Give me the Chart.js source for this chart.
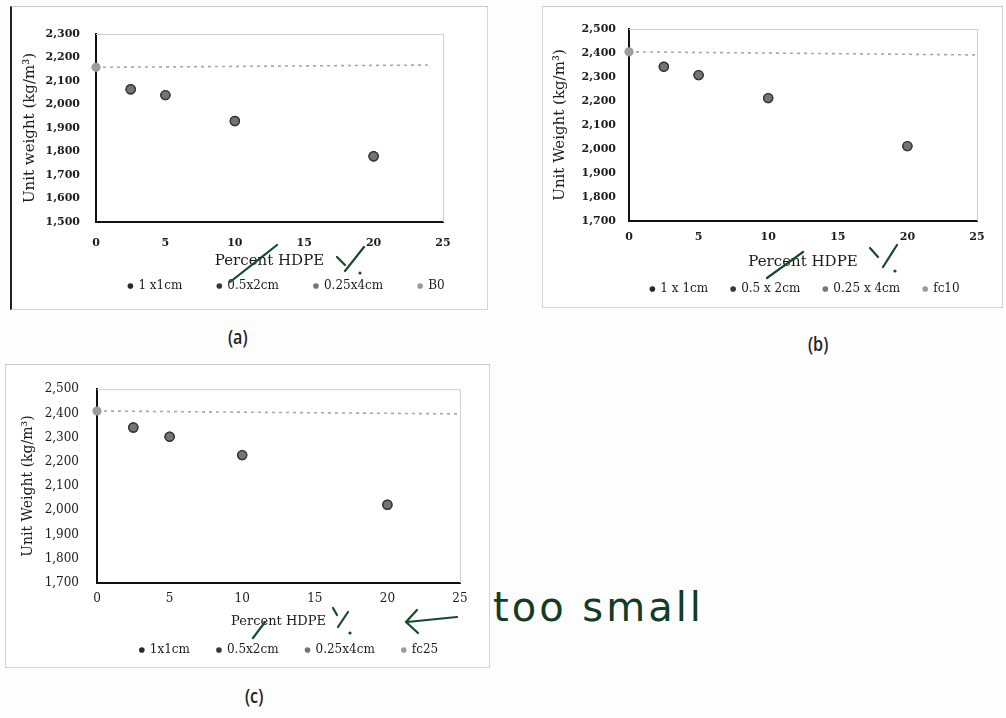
<!DOCTYPE html>
<html><head><meta charset="utf-8">
<script src="https://cdn.jsdelivr.net/npm/chart.js@4.4.0/dist/chart.umd.min.js"></script>
<style>
html,body{margin:0;padding:0;background:#fdfdfd;}
body{width:1006px;height:718px;position:relative;overflow:hidden;}
.frame{position:absolute;border:1px solid #d4d4d4;box-sizing:border-box;background:#fff;}
canvas{position:absolute;}
.cap{position:absolute;font-family:"Open Sans",sans-serif;font-weight:600;font-size:19px;color:#222;transform:scaleX(0.85);transform-origin:left top;}
.note{position:absolute;font-family:"DejaVu Sans",sans-serif;font-size:40px;color:#123d22;letter-spacing:3px;}
svg{position:absolute;left:0;top:0;pointer-events:none;}
</style></head><body>
<div class="frame" style="left:10px;top:6px;width:478px;height:304px;border-left:2px solid #222;border-top-color:#c8c8c8;"></div>
<div class="frame" style="left:542px;top:6px;width:461px;height:302px;border-top-color:#c8c8c8;"></div>
<div class="frame" style="left:5px;top:364px;width:485px;height:304px;border-top-color:#c8c8c8;"></div>
<canvas id="ca" width="478" height="304" style="left:10px;top:6px;"></canvas>
<canvas id="cb" width="461" height="302" style="left:542px;top:6px;"></canvas>
<canvas id="cc" width="485" height="304" style="left:5px;top:364px;"></canvas>
<div class="cap" style="left:228px;top:324px;">(a)</div>
<div class="cap" style="left:808px;top:331px;">(b)</div>
<div class="cap" style="left:245px;top:683px;">(c)</div>
<div class="note" style="left:493px;top:584px;">too small</div>
<svg width="1006" height="718" viewBox="0 0 1006 718">
 <g stroke="#174a2a" stroke-width="2.2" fill="none" stroke-linecap="round">
  <path d="M230 282 L277 245"/>
  <path d="M337 257 L345 265 M345 271 L364 247"/>
  <path d="M767 278 L803 252"/>
  <path d="M870 248 L878 257 M883 267 L897 245"/>
  <path d="M253 638 L265 622"/>
  <path d="M333 608 L337 615 M338 627 L348 612"/>
  <path d="M457 617 L407 622 M417 610 L406 622 L418 633"/>
 </g>
 <g fill="#174a2a"><circle cx="360" cy="273" r="1.6"/><circle cx="895" cy="271" r="1.6"/><circle cx="350" cy="633" r="1.6"/></g>
</svg>
<script>
// ---- data ----
const percentHDPE = [2.5, 5, 10, 20];
const weightA = [2065, 2040, 1930, 1780];
const weightB = [2343, 2308, 2212, 2012];
const weightC = [2342, 2304, 2228, 2023];
const refPercentA = [0, 24];
const refWeightA = [2158, 2168];
const refPercentB = [0, 25];
const refWeightB = [2405, 2392];
const refPercentC = [0, 25];
const refWeightC = [2410, 2398];
const seriesNamesA = ['1 x1cm', '0.5x2cm', '0.25x4cm', 'B0'];
const seriesNamesB = ['1 x 1cm', '0.5 x 2cm', '0.25 x 4cm', 'fc10'];
const seriesNamesC = ['1x1cm', '0.5x2cm', '0.25x4cm', 'fc25'];
const yRangeA = [1500, 2300];
const yRangeB = [1700, 2500];
const yRangeC = [1700, 2500];
const xRange = [0, 25];
const xTitle = 'Percent HDPE';
const yTitleA = 'Unit weight (kg/m³)';
const yTitleB = 'Unit Weight (kg/m³)';
const yTitleC = 'Unit Weight (kg/m³)';

Chart.defaults.font.family = '"DejaVu Serif", serif';
Chart.defaults.color = '#1c1c1c';

const placeLegend = {
  id: 'placeLegend',
  afterLayout(chart, args, opts) {
    const lg = chart.legend;
    if (!lg || !opts || opts.cx == null) return;
    const p = lg.options.labels.padding;
    const fs = opts.fs;
    const dx = opts.cx - (lg.left + lg.right) / 2;
    lg.left += dx; lg.right += dx;
    lg.top = opts.cy - p - fs / 2;
    lg.height = p + fs + 12;
    lg.bottom = lg.top + lg.height;
  }
};
const plotFrame = {
  id: 'plotFrame',
  beforeDatasetsDraw(chart) {
    const a = chart.chartArea, ctx = chart.ctx;
    ctx.save();
    ctx.strokeStyle = '#d0d0d0';
    ctx.lineWidth = 1;
    ctx.beginPath();
    ctx.moveTo(a.left, a.top + 0.5); ctx.lineTo(a.right + 0.5, a.top + 0.5); ctx.lineTo(a.right + 0.5, a.bottom);
    ctx.stroke();
    ctx.restore();
  }
};

function build(id, c) {
  const sizeStyles = [
    {bg: '#2a2a2a', r: 5.2},
    {bg: '#383838', r: 5.2},
    {bg: '#747474', r: 3.8}
  ];
  const datasets = c.names.slice(0, 3).map((n, i) => ({
    label: n,
    data: percentHDPE.map((x, j) => ({x: x, y: c.weights[j]})),
    showLine: false,
    pointRadius: sizeStyles[i].r,
    pointBackgroundColor: sizeStyles[i].bg,
    backgroundColor: sizeStyles[i].bg,
    borderColor: sizeStyles[i].bg,
    pointBorderWidth: 0,
    order: 2 - i
  }));
  datasets.push({
    label: c.names[3],
    data: c.refX.map((x, j) => ({x: x, y: c.refY[j]})),
    showLine: true,
    borderColor: '#a8a8a8',
    borderDash: [3, 4],
    borderWidth: 1.6,
    pointRadius: [4.6, 0],
    pointBackgroundColor: '#9c9c9c',
    backgroundColor: '#a4a4a4',
    pointBorderWidth: 0,
    clip: false,
    order: 5
  });
  new Chart(document.getElementById(id), {
    type: 'scatter',
    data: {datasets},
    plugins: [placeLegend, plotFrame],
    options: {
      responsive: false,
      animation: false,
      layout: {padding: {top: c.padTop, right: c.padRight, left: 0, bottom: 0}},
      plugins: {
        tooltip: {enabled: false},
        placeLegend: {cx: c.lcx, cy: c.lcy, fs: 12},
        legend: {
          position: 'bottom',
          maxHeight: 20,
          labels: {
            usePointStyle: true, pointStyle: 'circle',
            boxWidth: 4, boxHeight: 4,
            padding: c.lpad,
            font: {size: 12},
            color: '#1c1c1c',
            sort: (a, b) => a.datasetIndex - b.datasetIndex
          }
        }
      },
      scales: {
        x: {
          type: 'linear', min: xRange[0], max: xRange[1],
          grid: {display: false, drawTicks: false},
          border: {display: true, color: '#111', width: 2},
          ticks: {stepSize: 5, padding: c.xTickPad, maxRotation: 0, font: c.tickFont, color: '#1c1c1c'},
          title: {display: true, text: xTitle, font: {size: c.xTitleSize}, color: '#1c1c1c', padding: {top: 0, bottom: c.xTitlePad}},
          afterFit: s => { s.height = c.xH; }
        },
        y: {
          type: 'linear', min: c.yRange[0], max: c.yRange[1],
          grid: {display: false, drawTicks: false},
          border: {display: true, color: '#111', width: 2},
          ticks: {stepSize: 100, padding: c.yTickPad, font: c.tickFont, color: '#1c1c1c',
                  callback: v => v.toLocaleString('en-US')},
          title: {display: true, text: c.yTitle, font: {size: c.yTitleSize}, color: '#1c1c1c', padding: {top: c.yTitlePad, bottom: 0}},
          afterFit: s => { s.width = c.yW; }
        }
      }
    }
  });
}

build('ca', {names: seriesNamesA, weights: weightA, refX: refPercentA, refY: refWeightA, yRange: yRangeA, yTitle: yTitleA,
  padTop: 28, padRight: 45, yW: 86, xH: 68, yTickPad: 16, tickFont: {size: 11, weight: 'bold'},
  yTitleSize: 15, yTitlePad: 11, xTickPad: 14.4, xTitleSize: 15, xTitlePad: 19.6, lcx: 276.5, lcy: 280, lpad: 35});
build('cb', {names: seriesNamesB, weights: weightB, refX: refPercentB, refY: refWeightB, yRange: yRangeB, yTitle: yTitleB,
  padTop: 23, padRight: 26, yW: 87, xH: 67, yTickPad: 13, tickFont: {size: 11, weight: 'bold'},
  yTitleSize: 15, yTitlePad: 9, xTickPad: 9.4, xTitleSize: 15, xTitlePad: 16.6, lcx: 263, lcy: 283, lpad: 23});
build('cc', {names: seriesNamesC, weights: weightC, refX: refPercentC, refY: refWeightC, yRange: yRangeC, yTitle: yTitleC,
  padTop: 24, padRight: 30, yW: 92, xH: 65, yTickPad: 18, tickFont: {size: 12},
  yTitleSize: 14, yTitlePad: 14.6, xTickPad: 8.8, xTitleSize: 13, xTitlePad: 18.5, lcx: 284, lcy: 286, lpad: 27});
</script>
</body></html>
